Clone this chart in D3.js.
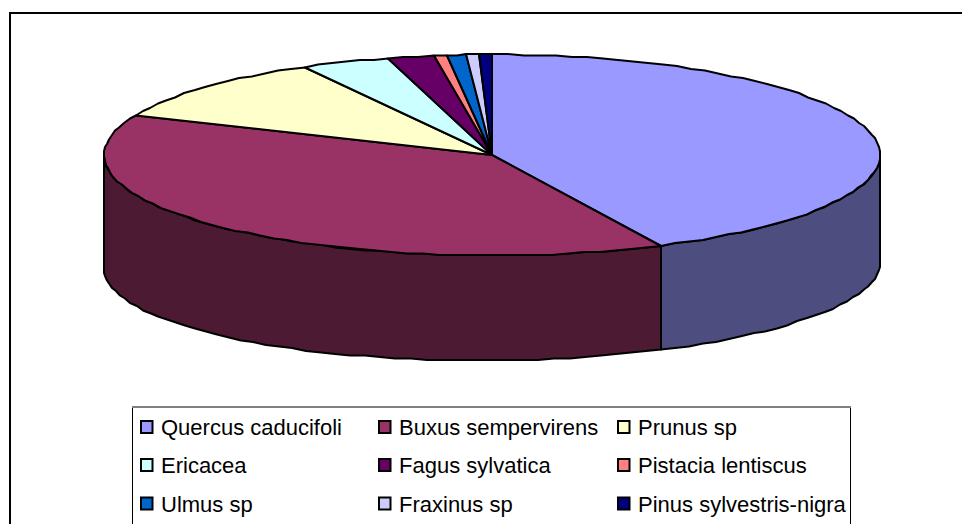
<!DOCTYPE html>
<html>
<head>
<meta charset="utf-8">
<script src="https://cdn.jsdelivr.net/npm/d3@7"></script>
<style>
  html, body { margin: 0; padding: 0; background: #fff; overflow: hidden; }
  svg { display: block; }
  text { font-family: "Liberation Sans", Arial, sans-serif; font-size: 22px; fill: #000; }
</style>
</head>
<body>
<div id="viz"></div>
<script>
"use strict";

var species = ["Quercus caducifoli", "Buxus sempervirens", "Prunus sp",
  "Ericacea", "Fagus sylvatica", "Pistacia lentiscus",
  "Ulmus sp", "Fraxinus sp", "Pinus sylvestris-nigra"];
var shares = [42.85, 38.65, 10.5, 3.7, 1.9, 0.55, 0.8, 0.5, 0.55];
var topColors = ["#9999FF", "#993366", "#FFFFCC", "#CCFFFF", "#660066",
  "#FF8080", "#0066CC", "#CCCCFF", "#000080"];

var w = 962;
var h = 524;
var cx = 492;
var cy = 155;
var rx = 388;
var ry = 100.5;
// the lower rim is a slightly flatter ellipse than the top one
var lowCy = 265.5;
var lowRy = 95;

var svg = d3.select("#viz")
  .append("svg")
  .attr("width", w)
  .attr("height", h);

// chart frame, runs off the right and bottom of the picture
svg.append("rect")
  .attr("x", 10)
  .attr("y", 13)
  .attr("width", w)
  .attr("height", h)
  .attr("fill", "#fff")
  .attr("stroke", "#000")
  .attr("stroke-width", 2);

var pie = d3.pie().sort(null).value(function(d) { return d; });
var slices = pie(shares);
var line = d3.line();

// points on the rim, angle clockwise from the top. snapped to a coarse
// pixel grid so the edge has the same wobble as the original
function topRim(a) {
  return [Math.round(cx + rx * Math.sin(a)),
    1.5 * Math.round((cy - ry * Math.cos(a)) / 1.5)];
}

function lowRim(a) {
  return [Math.round(cx + rx * Math.sin(a)),
    1.5 * Math.round((lowCy - lowRy * Math.cos(a) - 3 * Math.sin(a)) / 1.5)];
}

function arcPoints(a0, a1, rimFn) {
  var step = 2.4 * Math.PI / 180;
  var n = Math.max(1, Math.ceil((a1 - a0) / step));
  return d3.range(n + 1).map(function(i) {
    return rimFn(a0 + (a1 - a0) * i / n);
  });
}

function darker(c) {
  var col = d3.rgb(c);
  return d3.rgb(col.r / 2, col.g / 2, col.b / 2).formatHex();
}

// side walls, only the front half of the disc shows
var walls = svg.append("g");
slices.forEach(function(s, i) {
  var a0 = Math.max(s.startAngle, Math.PI / 2);
  var a1 = Math.min(s.endAngle, Math.PI * 1.5);
  if (a1 <= a0) return;
  var pts = arcPoints(a0, a1, topRim).concat(arcPoints(a0, a1, lowRim).reverse());
  walls.append("path")
    .attr("d", line(pts) + "Z")
    .attr("fill", darker(topColors[i]))
    .attr("stroke", "#000")
    .attr("stroke-width", 2)
    .attr("stroke-linejoin", "round");
});

// top of the disc
svg.append("g")
  .selectAll("path")
  .data(slices).enter()
  .append("path")
  .attr("d", function(s) {
    return line([[cx, cy]].concat(arcPoints(s.startAngle, s.endAngle, topRim))) + "Z";
  })
  .attr("fill", function(d, i) { return topColors[i]; })
  .attr("stroke", "#000")
  .attr("stroke-width", 2)
  .attr("stroke-linejoin", "round");

// legend
var legend = svg.append("g");
legend.append("rect")
  .attr("x", 132.5)
  .attr("y", 406.5)
  .attr("width", 718)
  .attr("height", 130)
  .attr("fill", "#fff")
  .attr("stroke", "#000")
  .attr("stroke-width", 1);
legend.append("line")
  .attr("x1", 132)
  .attr("x2", 851)
  .attr("y1", 407)
  .attr("y2", 407)
  .attr("stroke", "#808080")
  .attr("stroke-width", 2);

var colX = d3.scaleOrdinal().domain([0, 1, 2]).range([141, 379, 618]);
var rowY = d3.scaleOrdinal().domain([0, 1, 2]).range([427, 465, 503.5]);

var items = legend.selectAll("g.item")
  .data(species).enter()
  .append("g")
  .attr("class", "item")
  .attr("transform", function(d, i) {
    return "translate(" + colX(i % 3) + "," + rowY(Math.floor(i / 3)) + ")";
  });

items.append("rect")
  .attr("x", 0)
  .attr("y", -6)
  .attr("width", 11.5)
  .attr("height", 12)
  .attr("fill", function(d, i) { return topColors[i]; })
  .attr("stroke", "#000")
  .attr("stroke-width", 2);

items.append("text")
  .attr("x", 20)
  .attr("y", 8)
  .text(function(d) { return d; });
</script>
</body>
</html>
